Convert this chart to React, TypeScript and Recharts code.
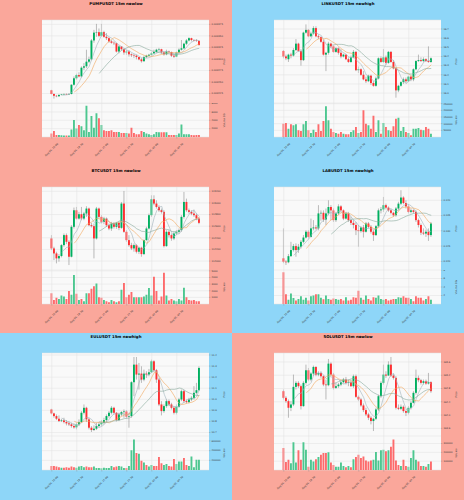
import React from 'react';
import { ComposedChart, Bar, Line, XAxis, YAxis, CartesianGrid, ReferenceLine, Cell } from 'recharts';

// ---------- categories (15m candles) ----------
const timeLabels: string[] = [];
for (let i = 0; i < 60; i++) {
  const m = 16 * 60 + i * 15;
  const day = 4 + Math.floor(m / 1440);
  const hh = Math.floor((m % 1440) / 60);
  const mm = m % 60;
  timeLabels.push(`Aug ${String(day).padStart(2, '0')}, ${String(hh).padStart(2, '0')}:${String(mm).padStart(2, '0')}`);
}
const gridCategories = [timeLabels[0], timeLabels[10], timeLabels[20], timeLabels[30], timeLabels[40], timeLabels[50]];
const maPeriods = [5, 10, 20];

// ---------- PUMPUSDT ----------
const pumpOpen = [3232e-6,3224e-6,3220e-6,3219e-6,3222e-6,3223e-6,3224e-6,3223e-6,3224e-6,3244e-6,3258e-6,3265e-6,3262e-6,3281e-6,3284e-6,3294e-6,3299e-6,3340e-6,3357e-6,3358e-6,3350e-6,3358e-6,3348e-6,3345e-6,3338e-6,3335e-6,3334e-6,3316e-6,3327e-6,3321e-6,3314e-6,3316e-6,3310e-6,3308e-6,3307e-6,3304e-6,3299e-6,3295e-6,3304e-6,3307e-6,3309e-6,3312e-6,3315e-6,3320e-6,3321e-6,3314e-6,3310e-6,3316e-6,3315e-6,3307e-6,3305e-6,3314e-6,3320e-6,3323e-6,3333e-6,3340e-6,3345e-6,3341e-6,3340e-6,3339e-6];
const pumpClose = [3224e-6,3220e-6,3219e-6,3222e-6,3223e-6,3224e-6,3223e-6,3224e-6,3244e-6,3258e-6,3265e-6,3262e-6,3281e-6,3284e-6,3294e-6,3299e-6,3340e-6,3357e-6,3358e-6,3350e-6,3358e-6,3348e-6,3345e-6,3338e-6,3335e-6,3334e-6,3316e-6,3327e-6,3321e-6,3314e-6,3316e-6,3310e-6,3308e-6,3307e-6,3304e-6,3299e-6,3295e-6,3304e-6,3307e-6,3309e-6,3312e-6,3315e-6,3320e-6,3321e-6,3314e-6,3310e-6,3316e-6,3315e-6,3307e-6,3305e-6,3314e-6,3320e-6,3323e-6,3333e-6,3340e-6,3345e-6,3341e-6,3340e-6,3339e-6,3330e-6];
const pumpHigh = [3233e-6,3225e-6,3222e-6,3223e-6,3224e-6,3225e-6,3225e-6,3226e-6,3245e-6,3262e-6,3268e-6,3271e-6,3284e-6,3291e-6,3320e-6,3305e-6,3343e-6,3363e-6,3376e-6,3366e-6,3376e-6,3361e-6,3356e-6,3347e-6,3341e-6,3338e-6,3335e-6,3330e-6,3328e-6,3323e-6,3320e-6,3318e-6,3312e-6,3311e-6,3309e-6,3305e-6,3302e-6,3307e-6,3309e-6,3311e-6,3315e-6,3320e-6,3322e-6,3324e-6,3322e-6,3316e-6,3320e-6,3318e-6,3316e-6,3312e-6,3316e-6,3323e-6,3341e-6,3335e-6,3343e-6,3347e-6,3346e-6,3343e-6,3343e-6,3341e-6];
const pumpLow = [3223e-6,3214e-6,3217e-6,3218e-6,3221e-6,3222e-6,3222e-6,3222e-6,3223e-6,3242e-6,3255e-6,3260e-6,3260e-6,3276e-6,3280e-6,3291e-6,3297e-6,3335e-6,3348e-6,3347e-6,3348e-6,3346e-6,3341e-6,3335e-6,3333e-6,3330e-6,3314e-6,3312e-6,3318e-6,3309e-6,3309e-6,3305e-6,3304e-6,3302e-6,3299e-6,3297e-6,3292e-6,3294e-6,3302e-6,3305e-6,3307e-6,3311e-6,3314e-6,3316e-6,3311e-6,3307e-6,3308e-6,3311e-6,3304e-6,3302e-6,3304e-6,3312e-6,3318e-6,3321e-6,3330e-6,3338e-6,3338e-6,3338e-6,3337e-6,3329e-6];
const pumpVolume = [810,1460,490,490,410,330,330,330,1790,4070,2030,2850,2600,1630,7480,1220,5040,2200,5690,4470,2850,1630,1460,1460,1630,1220,1220,1220,980,980,980,810,2200,980,650,650,1460,1220,810,650,490,650,1220,1140,1140,1140,1140,490,490,490,490,810,3010,650,650,650,490,410,490,490];
const pumpPriceTicks = [0.003225, 0.00325, 0.003275, 0.0033, 0.003325, 0.00335, 0.003375];
const pumpVolTicks = [2000, 4000, 6000, 8000];

// ---------- LINKUSDT ----------
const linkOpen = [16.46,16.40,16.37,16.42,16.41,16.47,16.54,16.46,16.36,16.66,16.69,16.62,16.65,16.71,16.62,16.61,16.56,16.42,16.44,16.54,16.51,16.45,16.49,16.44,16.40,16.42,16.37,16.34,16.39,16.45,16.25,16.26,16.20,16.15,16.13,16.19,16.11,16.08,16.16,16.38,16.34,16.39,16.33,16.45,16.34,16.27,16.03,16.08,16.12,16.15,16.13,16.18,16.15,16.26,16.35,16.36,16.35,16.37,16.35,16.34];
const linkClose = [16.40,16.38,16.42,16.41,16.47,16.54,16.46,16.36,16.66,16.69,16.62,16.65,16.71,16.62,16.61,16.56,16.42,16.44,16.54,16.51,16.45,16.49,16.44,16.40,16.42,16.37,16.34,16.39,16.45,16.25,16.26,16.20,16.15,16.13,16.19,16.11,16.08,16.16,16.38,16.34,16.39,16.33,16.45,16.34,16.27,16.03,16.08,16.12,16.15,16.13,16.18,16.15,16.26,16.35,16.36,16.35,16.37,16.35,16.34,16.38];
const linkHigh = [16.47,16.42,16.43,16.44,16.49,16.59,16.55,16.48,16.67,16.75,16.70,16.67,16.73,16.73,16.64,16.62,16.58,16.45,16.56,16.55,16.52,16.50,16.50,16.48,16.43,16.42,16.39,16.41,16.47,16.46,16.29,16.27,16.24,16.18,16.20,16.20,16.13,16.18,16.39,16.40,16.48,16.41,16.46,16.46,16.36,16.28,16.09,16.13,16.17,16.17,16.19,16.19,16.27,16.36,16.42,16.39,16.39,16.38,16.51,16.39];
const linkLow = [16.38,16.36,16.34,16.38,16.40,16.46,16.45,16.30,16.35,16.65,16.61,16.61,16.64,16.61,16.59,16.55,16.41,16.24,16.42,16.49,16.44,16.44,16.42,16.38,16.39,16.36,16.33,16.33,16.38,16.24,16.22,16.19,16.14,16.11,16.12,16.09,16.07,16.07,16.15,16.33,16.33,16.31,16.32,16.33,16.26,15.95,16.01,16.07,16.10,16.11,16.12,16.13,16.13,16.25,16.34,16.34,16.34,16.34,16.33,16.33];
const linkVolume = [100000,105000,62500,95000,87500,95000,50000,45000,95000,120000,50000,30000,55000,37500,95000,45000,120000,230000,125000,62500,37500,30000,25000,37500,25000,20000,20000,37500,50000,75000,30000,37500,200000,100000,87500,62500,160000,37500,125000,25000,105000,75000,50000,45000,80000,137500,145000,45000,75000,37500,30000,12500,62500,62500,67500,55000,50000,75000,62500,25000];
const linkPriceTicks = [16.0, 16.1, 16.2, 16.3, 16.4, 16.5, 16.6, 16.7];
const linkVolTicks = [50000, 100000, 150000, 200000, 250000];

// ---------- BTCUSDT ----------
const btcOpen = [114389,114217,114131,114046,114086,114274,114446,114331,114074,114589,114874,114731,114806,114731,114817,114903,114617,114600,114389,114903,114760,114674,114731,114617,114560,114646,114589,114657,114571,114989,114503,114360,114274,114217,114274,114160,114229,114120,114360,114560,114789,115063,114989,114931,114874,114846,114257,114503,114446,114389,114474,114503,114531,114760,115017,114874,114846,114817,114789,114731];
const btcClose = [114217,114131,114046,114086,114274,114446,114331,114074,114589,114874,114731,114806,114731,114817,114903,114617,114600,114389,114903,114760,114674,114731,114617,114560,114646,114589,114657,114571,114989,114503,114360,114274,114217,114274,114160,114229,114120,114360,114560,114789,115063,114989,114931,114874,114846,114257,114503,114446,114389,114474,114503,114531,114760,115017,114874,114846,114817,114789,114731,114657];
const btcHigh = [114446,114246,114160,114120,114291,114474,114474,114360,114617,114920,114931,114846,114931,114846,114943,114920,114657,114646,114931,114920,114789,114760,114749,114646,114674,114669,114674,114674,115017,115206,114531,114446,114314,114303,114291,114246,114246,114371,114589,114817,115131,115131,115046,114960,114903,114874,114531,114531,114474,114503,114531,114560,114789,115189,115074,114903,114874,114886,114817,114760];
const btcLow = [114189,114017,113960,113989,114063,114246,114291,113931,114063,114560,114714,114714,114703,114703,114760,114600,114577,114046,114371,114731,114646,114634,114589,114531,114520,114560,114554,114531,114554,114486,114331,114246,114189,114160,114131,114120,114074,114103,114349,114543,114760,114960,114903,114846,114817,114234,114246,114406,114349,114360,114446,114474,114503,114731,114846,114817,114789,114760,114703,114634];
const btcVolume = [1640,615,925,770,1280,1130,770,1950,1385,4360,1540,615,770,410,1640,1640,2310,2670,3080,1030,925,615,410,255,615,410,255,410,2150,3180,1030,1385,1800,1030,1030,1030,1030,1130,1385,2410,1280,4100,1950,510,1130,4720,1280,510,770,510,410,770,510,2460,1030,615,510,615,410,410];
const btcPriceTicks = [114000, 114200, 114400, 114600, 114800, 115000, 115200];
const btcVolTicks = [1000, 2000, 3000, 4000, 5000];

// ---------- LABUSDT ----------
const labOpen = [0.1210,0.1199,0.1197,0.1217,0.1237,0.1250,0.1237,0.1248,0.1264,0.1278,0.1297,0.1280,0.1308,0.1311,0.1308,0.1357,0.1359,0.1337,0.1357,0.1378,0.1367,0.1335,0.1357,0.1380,0.1367,0.1340,0.1357,0.1335,0.1326,0.1319,0.1302,0.1299,0.1311,0.1297,0.1324,0.1313,0.1297,0.1286,0.1315,0.1367,0.1370,0.1384,0.1376,0.1367,0.1359,0.1351,0.1373,0.1389,0.1409,0.1391,0.1380,0.1362,0.1367,0.1362,0.1335,0.1319,0.1294,0.1291,0.1297,0.1286];
const labClose = [0.1199,0.1197,0.1217,0.1237,0.1250,0.1237,0.1248,0.1264,0.1278,0.1297,0.1280,0.1308,0.1311,0.1308,0.1357,0.1359,0.1337,0.1357,0.1378,0.1367,0.1335,0.1357,0.1380,0.1367,0.1340,0.1357,0.1335,0.1326,0.1319,0.1302,0.1299,0.1311,0.1297,0.1324,0.1313,0.1297,0.1286,0.1315,0.1367,0.1370,0.1384,0.1376,0.1367,0.1359,0.1351,0.1373,0.1389,0.1409,0.1391,0.1380,0.1362,0.1367,0.1362,0.1335,0.1319,0.1294,0.1291,0.1297,0.1286,0.1324];
const labHigh = [0.1308,0.1204,0.1224,0.1264,0.1257,0.1259,0.1257,0.1270,0.1286,0.1302,0.1302,0.1340,0.1335,0.1319,0.1384,0.1367,0.1367,0.1373,0.1400,0.1384,0.1373,0.1362,0.1387,0.1384,0.1370,0.1362,0.1362,0.1346,0.1335,0.1329,0.1319,0.1315,0.1319,0.1329,0.1329,0.1319,0.1302,0.1319,0.1373,0.1378,0.1411,0.1389,0.1380,0.1373,0.1362,0.1378,0.1395,0.1433,0.1413,0.1400,0.1387,0.1373,0.1370,0.1367,0.1340,0.1324,0.1308,0.1304,0.1308,0.1329];
const labLow = [0.1194,0.1188,0.1194,0.1215,0.1232,0.1215,0.1228,0.1242,0.1259,0.1275,0.1275,0.1278,0.1302,0.1304,0.1302,0.1333,0.1329,0.1319,0.1351,0.1335,0.1329,0.1329,0.1351,0.1362,0.1335,0.1337,0.1329,0.1319,0.1308,0.1286,0.1248,0.1294,0.1278,0.1294,0.1308,0.1291,0.1267,0.1283,0.1311,0.1357,0.1362,0.1370,0.1362,0.1354,0.1346,0.1346,0.1367,0.1384,0.1387,0.1373,0.1357,0.1357,0.1357,0.1329,0.1311,0.1286,0.1286,0.1280,0.1267,0.1280];
const labVolume = [7.5,2.3,1.0,2.45,1.4,0.8,1.2,1.8,1.0,1.5,0.8,1.8,2.0,2.3,2.3,1.5,1.1,2.0,1.2,1.0,1.3,1.2,1.0,1.2,0.8,1.6,0.8,1.0,1.6,1.5,3.1,1.5,1.0,2.0,1.2,0.8,1.6,1.5,2.0,1.2,1.0,1.2,0.8,1.0,1.2,1.2,1.6,1.5,1.8,1.5,1.5,1.2,0.65,1.8,1.5,1.5,0.8,1.2,1.8,1.0];
const labPriceTicks = [0.12, 0.125, 0.13, 0.135, 0.14];
const labVolTicks = [2, 4, 6, 8];

// ---------- EULUSDT ----------
const eulOpen = [10.908,10.872,10.848,10.824,10.803,10.809,10.794,10.782,10.773,10.758,10.746,10.773,10.794,10.878,10.923,10.818,10.743,10.722,10.734,10.758,10.773,10.788,10.812,10.848,10.878,10.923,10.878,10.812,10.863,10.884,10.890,10.842,10.848,11.154,11.313,11.223,11.232,11.178,11.232,11.223,11.244,11.343,11.262,11.178,10.953,10.893,10.938,10.983,10.953,10.923,10.878,10.932,10.998,11.073,10.983,10.974,10.998,11.013,11.058,11.082];
const eulClose = [10.872,10.848,10.824,10.803,10.809,10.794,10.782,10.773,10.758,10.746,10.773,10.794,10.878,10.923,10.818,10.743,10.722,10.734,10.758,10.773,10.788,10.812,10.848,10.878,10.923,10.878,10.812,10.863,10.884,10.890,10.842,10.848,11.154,11.313,11.223,11.232,11.178,11.232,11.223,11.244,11.343,11.262,11.178,10.953,10.893,10.938,10.983,10.953,10.923,10.878,10.932,10.998,11.073,10.983,10.974,10.998,11.013,11.058,11.082,11.283];
const eulHigh = [10.914,10.878,10.863,10.854,10.824,10.833,10.812,10.803,10.788,10.782,10.788,10.818,10.893,10.953,10.932,10.833,10.758,10.764,10.788,10.794,10.812,10.833,10.863,10.893,10.938,10.932,10.884,10.878,10.893,10.908,10.902,10.878,11.163,11.382,11.382,11.328,11.298,11.268,11.253,11.274,11.358,11.352,11.274,11.193,10.983,10.953,10.998,10.998,10.968,10.938,10.953,11.013,11.088,11.088,10.998,11.013,11.028,11.118,11.148,11.298];
const eulLow = [10.863,10.833,10.812,10.794,10.794,10.782,10.764,10.758,10.743,10.734,10.728,10.758,10.788,10.863,10.794,10.728,10.704,10.713,10.722,10.743,10.758,10.773,10.794,10.833,10.863,10.863,10.800,10.803,10.848,10.833,10.824,10.743,10.833,11.028,11.178,11.088,11.148,11.163,11.193,11.208,11.238,11.244,11.148,10.938,10.854,10.878,10.923,10.938,10.908,10.863,10.863,10.923,10.983,10.968,10.962,10.962,10.983,10.998,11.043,11.073];
const eulVolume = [84000,84000,70000,56000,49000,49000,56000,49000,70000,56000,49000,70000,84000,56000,70000,56000,56000,70000,42000,42000,35000,49000,42000,42000,84000,56000,70000,84000,70000,42000,42000,84000,407000,632000,351000,337000,190000,154000,105000,70000,105000,84000,84000,267000,140000,105000,126000,84000,70000,225000,126000,175000,175000,246000,105000,84000,281000,56000,211000,211000];
const eulPriceTicks = [10.7, 10.8, 10.9, 11.0, 11.1, 11.2, 11.3, 11.4];
const eulVolTicks = [200000, 400000, 600000];

// ---------- SOLUSDT ----------
const solOpen = [164.72,164.52,164.42,164.22,164.32,164.85,164.97,164.87,164.27,164.97,165.35,165.07,165.25,165.45,165.22,165.27,165.17,164.92,164.90,165.55,165.22,164.82,164.87,164.92,164.99,165.07,164.97,164.99,164.87,165.17,164.55,164.47,164.29,164.15,164.02,163.92,163.82,163.89,164.17,164.57,164.97,165.22,165.19,165.52,165.19,165.12,164.22,164.19,164.25,164.12,164.07,164.22,164.37,164.67,165.12,165.05,164.97,165.02,164.95,164.99];
const solClose = [164.52,164.42,164.22,164.32,164.85,164.97,164.87,164.27,164.97,165.35,165.07,165.25,165.45,165.22,165.27,165.17,164.92,164.90,165.55,165.22,164.82,164.87,164.92,164.99,165.07,164.97,164.99,164.87,165.17,164.55,164.47,164.29,164.15,164.02,163.92,163.82,163.89,164.17,164.57,164.97,165.22,165.19,165.52,165.19,165.12,164.22,164.19,164.25,164.12,164.07,164.22,164.37,164.67,165.12,165.05,164.97,165.02,164.95,164.99,164.72];
const solHigh = [164.77,164.57,164.47,164.42,165.22,165.02,165.02,164.92,165.02,165.52,165.42,165.29,165.49,165.47,165.32,165.32,165.19,165.07,165.69,165.59,165.27,164.97,164.97,165.05,165.12,165.15,165.07,165.07,165.22,165.22,164.59,164.52,164.35,164.22,164.07,163.97,163.92,164.22,164.62,165.02,165.52,165.32,165.62,165.75,165.25,165.17,164.32,164.32,164.29,164.17,164.27,164.42,164.72,165.37,165.19,165.09,165.07,165.07,165.27,165.02];
const solLow = [164.47,164.37,163.92,164.12,164.27,164.77,164.82,164.17,164.25,164.92,165.02,165.02,165.19,165.17,165.17,165.12,164.87,164.47,164.87,165.17,164.77,164.79,164.82,164.87,164.95,164.92,164.87,164.85,164.82,164.52,164.42,164.25,164.09,163.97,163.85,163.72,163.52,163.85,164.12,164.52,164.92,165.12,165.19,165.15,165.07,164.17,164.15,164.15,164.07,163.97,164.02,164.17,164.35,164.62,164.99,164.92,164.92,164.91,164.92,164.67];
const solVolume = [250000,92000,115000,77000,315000,85000,223000,115000,315000,230000,38000,115000,96000,123000,146000,173000,192000,192000,200000,85000,58000,38000,38000,85000,46000,31000,46000,31000,123000,146000,173000,135000,154000,108000,96000,108000,115000,204000,108000,223000,230000,212000,223000,262000,346000,108000,58000,46000,115000,46000,38000,135000,223000,115000,96000,46000,46000,38000,69000,96000];
const solPriceTicks = [163.6, 164.0, 164.4, 164.8, 165.2, 165.6];
const solVolTicks = [100000, 200000, 300000];

// ---------- styling ----------
const UP = '#00b060';
const DOWN = '#fe3032';
const WICK = '#7a7a7a';
const VOL_UP = '#4dc790';
const VOL_DOWN = '#fd6b6c';
const MA_COLORS = ['#9fb2bb', '#f2a65a', '#86a89a'];
const PLOT_BG = '#f9f9f9';
const GRID = '#e1e1e1';
const LOW_BG = '#faa79b';
const HIGH_BG = '#8ed6f8';
const TEXT = '#3a3a3a';
const FONT = '"DejaVu Sans", sans-serif';

function movingAverage(values: number[], n: number): (number | null)[] {
  return values.map((_, i) => {
    if (i < n - 1) return null;
    let s = 0;
    for (let k = i - n + 1; k <= i; k++) s += values[k];
    return s / n;
  });
}

const Candle = (props: any) => {
  const { x, y, width, height, payload } = props;
  if (!payload || x == null || y == null) return null;
  const { open, close, high, low } = payload;
  const top = Math.min(y, y + height);
  const h = Math.abs(height);
  const range = high - low;
  const k = range > 0 ? h / range : 0;
  const yO = top + (high - open) * k;
  const yC = top + (high - close) * k;
  const bTop = Math.min(yO, yC);
  const bH = Math.max(Math.abs(yO - yC), 0.4);
  const cx = x + width / 2;
  const color = close >= open ? UP : DOWN;
  return (
    <g>
      <line x1={cx} x2={cx} y1={top} y2={top + h} stroke={WICK} strokeWidth={0.5} />
      <rect x={x} y={bTop} width={width} height={bH} fill={color} />
    </g>
  );
};

const XTick = (props: any) => {
  const { x, y, payload } = props;
  return (
    <g transform={`translate(${x},${y})`}>
      <text transform="translate(0,9.5) rotate(-45)" textAnchor="middle" dominantBaseline="central" fontSize={2.5} fill={TEXT} fontFamily={FONT}>
        {payload.value}
      </text>
    </g>
  );
};

type PanelSpec = {
  title: string;
  bg: string;
  left: number;
  top: number;
  height: number;
  open: number[];
  high: number[];
  low: number[];
  close: number[];
  volume: number[];
  priceTicks: number[];
  priceDomain: [number, number];
  priceFmt: (v: number) => string;
  volTicks: number[];
  volDomain: [number, number];
  volExp?: string;
};

function Panel(p: PanelSpec) {
  const mas = maPeriods.map((n) => movingAverage(p.close, n));
  const rows = p.close.map((c, i) => ({
    time: timeLabels[i],
    open: p.open[i],
    high: p.high[i],
    low: p.low[i],
    close: c,
    range: [p.low[i], p.high[i]],
    volume: p.volume[i],
    ma0: mas[0][i],
    ma1: mas[1][i],
    ma2: mas[2][i],
  }));
  const pad = { left: 8.5, right: 8.5 };
  const yTick = { fontSize: 2.4, fill: TEXT, fontFamily: FONT };
  return (
    <div style={{ position: 'absolute', left: p.left, top: p.top, width: 232, height: p.height, background: p.bg, overflow: 'hidden' }}>
      <div style={{ position: 'absolute', left: 0, top: 0 }}>
        <ComposedChart width={232} height={103} data={rows} margin={{ top: 20, right: 0, bottom: 0, left: 42 }}>
          <CartesianGrid vertical={false} stroke={GRID} strokeWidth={0.5} fill={PLOT_BG} />
          <XAxis dataKey="time" height={0} tick={false} tickLine={false} axisLine={{ stroke: '#c4c4c4', strokeWidth: 0.5 }} padding={pad} />
          <YAxis orientation="right" width={23} domain={p.priceDomain} allowDataOverflow ticks={p.priceTicks} tickFormatter={p.priceFmt} tick={yTick} tickSize={1.5} tickMargin={1} axisLine={false} tickLine={{ stroke: '#888', strokeWidth: 0.4 }} interval={0} />
          {gridCategories.map((c) => (
            <ReferenceLine key={c} x={c} stroke={GRID} strokeWidth={0.5} />
          ))}
          <Bar dataKey="range" barSize={1.9} shape={(s: any) => <Candle {...s} />} isAnimationActive={false} />
          {[0, 1, 2].map((k) => (
            <Line key={k} dataKey={`ma${k}`} stroke={MA_COLORS[k]} strokeWidth={0.6} dot={false} activeDot={false} isAnimationActive={false} />
          ))}
        </ComposedChart>
      </div>
      <div style={{ position: 'absolute', left: 0, top: 103 }}>
        <ComposedChart width={232} height={64} data={rows} margin={{ top: 0, right: 0, bottom: 0, left: 42 }}>
          <CartesianGrid vertical={false} stroke={GRID} strokeWidth={0.5} fill={PLOT_BG} />
          <XAxis dataKey="time" height={30} interval={9} tick={<XTick />} tickSize={1.5} tickLine={{ stroke: '#888', strokeWidth: 0.4 }} axisLine={false} padding={pad} />
          <YAxis orientation="right" width={23} domain={p.volDomain} allowDataOverflow ticks={p.volTicks} tick={yTick} tickSize={1.5} tickMargin={1} axisLine={false} tickLine={{ stroke: '#888', strokeWidth: 0.4 }} interval={0} />
          {gridCategories.map((c) => (
            <ReferenceLine key={c} x={c} stroke={GRID} strokeWidth={0.5} />
          ))}
          <Bar dataKey="volume" barSize={1.9} isAnimationActive={false}>
            {rows.map((r, i) => (
              <Cell key={i} fill={r.close >= r.open ? VOL_UP : VOL_DOWN} />
            ))}
          </Bar>
        </ComposedChart>
      </div>
      <svg width={232} height={p.height} style={{ position: 'absolute', left: 0, top: 0, pointerEvents: 'none' }} fontFamily={FONT}>
        <text x={116} y={5.3} textAnchor="middle" fontSize={3.9} fontWeight="bold" fill="#000">{p.title}</text>
        <text transform="translate(224.5,61.5) rotate(-90)" textAnchor="middle" dominantBaseline="central" fontSize={2.5} fill={TEXT}>Price</text>
        <text transform="translate(224.5,120) rotate(-90)" textAnchor="middle" dominantBaseline="central" fontSize={2.5} fill={TEXT}>
          {p.volExp ? (
            <>
              Volume  10<tspan dy={-0.9} fontSize={1.8}>{p.volExp}</tspan>
            </>
          ) : (
            'Volume'
          )}
        </text>
      </svg>
    </div>
  );
}

const panels: PanelSpec[] = [
  { title: 'PUMPUSDT 15m newlow', bg: LOW_BG, left: 0, top: 0, height: 167, open: pumpOpen, high: pumpHigh, low: pumpLow, close: pumpClose, volume: pumpVolume, priceTicks: pumpPriceTicks, priceDomain: [0.0032044, 0.0033844], priceFmt: (v) => v.toFixed(6), volTicks: pumpVolTicks, volDomain: [0, 8130], volExp: '7' },
  { title: 'LINKUSDT 15m newhigh', bg: HIGH_BG, left: 232, top: 0, height: 167, open: linkOpen, high: linkHigh, low: linkLow, close: linkClose, volume: linkVolume, priceTicks: linkPriceTicks, priceDomain: [15.892, 16.798], priceFmt: (v) => v.toFixed(1), volTicks: linkVolTicks, volDomain: [0, 255000] },
  { title: 'BTCUSDT 15m newlow', bg: LOW_BG, left: 0, top: 167, height: 166, open: btcOpen, high: btcHigh, low: btcLow, close: btcClose, volume: btcVolume, priceTicks: btcPriceTicks, priceDomain: [113846, 115274], priceFmt: (v) => String(Math.round(v)), volTicks: btcVolTicks, volDomain: [0, 5130] },
  { title: 'LABUSDT 15m newhigh', bg: HIGH_BG, left: 232, top: 167, height: 166, open: labOpen, high: labHigh, low: labLow, close: labClose, volume: labVolume, priceTicks: labPriceTicks, priceDomain: [0.11717, 0.14435], priceFmt: (v) => v.toFixed(3), volTicks: labVolTicks, volDomain: [0, 8], volExp: '6' },
  { title: 'EULUSDT 15m newhigh', bg: HIGH_BG, left: 0, top: 333, height: 167, open: eulOpen, high: eulHigh, low: eulLow, close: eulClose, volume: eulVolume, priceTicks: eulPriceTicks, priceDomain: [10.668, 11.418], priceFmt: (v) => v.toFixed(1), volTicks: eulVolTicks, volDomain: [0, 702000] },
  { title: 'SOLUSDT 15m newlow', bg: LOW_BG, left: 232, top: 333, height: 167, open: solOpen, high: solHigh, low: solLow, close: solClose, volume: solVolume, priceTicks: solPriceTicks, priceDomain: [163.37, 165.87], priceFmt: (v) => v.toFixed(1), volTicks: solVolTicks, volDomain: [0, 385000] },
];

export default function App() {
  return (
    <div style={{ position: 'absolute', left: 0, top: 0, width: 464, height: 500, overflow: 'hidden', fontFamily: FONT }}>
      {panels.map((p) => (
        <Panel key={p.title} {...p} />
      ))}
    </div>
  );
}
